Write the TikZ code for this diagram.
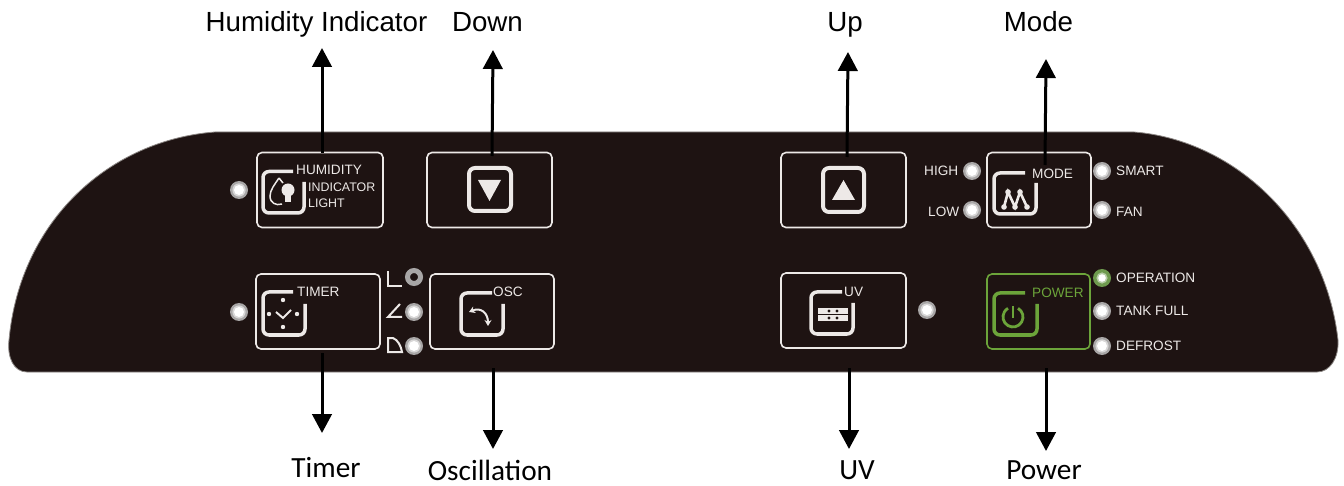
\documentclass[tikz,border=0pt]{standalone}
\usepackage{fontspec}
\setmainfont{Liberation Sans}
\newfontfamily\calibrilike{Carlito}
\usetikzlibrary{arrows.meta}
\definecolor{panelc}{HTML}{1E1312}
\definecolor{edgec}{HTML}{8C8784}
\definecolor{linec}{HTML}{EDE9E7}
\definecolor{greenc}{HTML}{6CA43A}
\definecolor{ledg}{HTML}{A8A6A6}
\definecolor{ledgg}{HTML}{6E9A4E}
\tikzset{
  x=1pt,y=-1pt,
  btn/.style={draw=linec,line width=1.6pt,rounded corners=5pt,inner sep=0pt,minimum width=#1,minimum height=75pt},
  pbtn/.style={btn=#1,draw=greenc},
  icon/.style={draw=linec,line width=3.5pt,rounded corners=6pt},
  gicon/.style={icon,draw=greenc},
  glyph/.style={fill=linec,draw=none},
  led/.style={circle,inner sep=0pt,minimum size=18pt,fill=ledg,
    path picture={\fill[white!55!ledg] (path picture bounding box.center) circle[radius=6.6pt];
                  \fill[white] (path picture bounding box.center) circle[radius=5pt];}},
  gled/.style={circle,inner sep=0pt,minimum size=18pt,fill=ledgg,
    path picture={\fill[white!50!ledgg] (path picture bounding box.center) circle[radius=5.6pt];
                  \fill[white] (path picture bounding box.center) circle[radius=3.8pt];}},
  ringled/.style={circle,inner sep=0pt,minimum size=13pt,draw=ledg,line width=5pt,fill=panelc},
  tag/.style={inner sep=0pt,anchor=west,text=linec,font=\fontsize{13.6}{15}\selectfont},
  gtag/.style={tag,text=greenc},
  lab/.style={inner sep=0pt,anchor=base,text=black,font=\fontsize{27.7}{30}\selectfont},
  blab/.style={inner sep=0pt,anchor=base,text=black,font=\calibrilike\fontsize{29.3}{32}\selectfont},
  arr/.style={draw=black,line width=3pt,-{Triangle[length=19pt,width=19.5pt]}},
  glyphline/.style={draw=linec,line width=2pt},
}
\begin{document}
\begin{tikzpicture}
\useasboundingbox (0,0) rectangle (1344,486);
% panel
\draw[fill=panelc,draw=edgec,line width=0.8pt]
  (215,132) -- (1134,132)
  .. controls (1235,140) and (1325,225) .. (1338,340)
  .. controls (1339,358) and (1330,372) .. (1317,372)
  -- (27,372)
  .. controls (14,372) and (7,358) .. (9,340)
  .. controls (20,220) and (110,140) .. (215,132) -- cycle;
% buttons
\node[btn=126pt] (bhum) at (320,190) {};
\node[btn=125pt] (bdown) at (489.5,190) {};
\node[btn=125pt] (bup) at (843.5,190) {};
\node[btn=104pt] (bmode) at (1039,190) {};
\node[btn=124pt] (btimer) at (318,311.5) {};
\node[btn=124pt] (bosc) at (492,311.5) {};
\node[btn=125pt] (buv) at (843.5,310.5) {};
\node[pbtn=103pt] (bpower) at (1038.5,311.5) {};
% C-shaped icons
\draw[icon] (293,171.5) -- (263,171.5) -- (263,213) -- (304,213) -- (304,182);
\draw[icon] (293,292) -- (263,292) -- (263,335) -- (305,335) -- (305,304);
\draw[icon] (492,293) -- (461,293) -- (461,335) -- (503,335) -- (503,304);
\draw[icon] (1025,173) -- (994,173) -- (994,214) -- (1036,214) -- (1036,183);
\draw[icon] (842,292) -- (811,292) -- (811,334) -- (853,334) -- (853,303);
\draw[gicon] (1025,293) -- (994,293) -- (994,335) -- (1037,335) -- (1037,304);
% down / up icons
\draw[icon,line width=4pt] (469,168) rectangle (511,211);
\fill[glyph] (478,180) -- (501,180) -- (489.5,201) -- cycle;
\draw[icon,line width=4pt] (823,168) rectangle (864,212);
\fill[glyph] (843.5,180) -- (855,200) -- (832,200) -- cycle;
% humidity glyph
\draw[draw=linec,line width=1.5pt] (279,178) .. controls (275,184) and (270,190) .. (270,196)
  .. controls (270,203) and (276,206) .. (282,204);
\draw[draw=linec,line width=1.5pt] (279,178) -- (283,183);
\fill[glyph] (288,190) circle[radius=6.5pt];
\fill[glyph] (285,194) rectangle (291,202);
% timer glyph
\foreach \px/\py in {283/300,269/314,297/314,283/327}
  \fill[glyph] (\px,\py) circle[radius=2.2pt];
\draw[glyphline] (276,312) -- (283,318) -- (291,310);
% osc glyph
\draw[draw=linec,line width=2pt,{Stealth[length=6pt,width=7pt]}-{Stealth[length=6pt,width=7pt]}] (469,312) .. controls (481,307) and (488,313) .. (488,326);
% mode glyph
\draw[draw=linec,line width=2.6pt] (1004,207) -- (1008,192) -- (1015,207) -- (1020,192) -- (1027,207);
\foreach \px/\py in {1004/207,1008/192,1015/207,1020/192,1027/207}
  \fill[glyph] (\px,\py) circle[radius=2.8pt];
% uv glyph
\foreach \py in {311,318}{
  \fill[glyph] (818,\py-2.7) rectangle (848,\py+2.7);
  \fill[panelc] (829,\py) circle[radius=1.7pt];
  \fill[panelc] (837,\py) circle[radius=1.7pt];
}
% power glyph
\draw[draw=greenc,line width=2.8pt] (1018,308.3) arc[start angle=60,end angle=-240,radius=10pt];
\draw[draw=greenc,line width=2.8pt] (1013,306) -- (1013,318);
% angle marks
\draw[glyphline] (388,271) -- (388,286) -- (402,286);
\draw[glyphline] (400,304) -- (388,317) -- (402,317);
\draw[glyphline] (388,352) -- (388,338) -- (393,338) .. controls (398,340) and (401,346) .. (402,352) -- cycle;
% LEDs
\node[led] (l1) at (239,190) {};
\node[led] (l2) at (239,312) {};
\node[ringled] (l3) at (414,277) {};
\node[led] (l4) at (414,312) {};
\node[led] (l5) at (414,346) {};
\node[led] (l6) at (972,171) {};
\node[led] (l7) at (972,210) {};
\node[led] (l8) at (1102,171) {};
\node[led] (l9) at (1102,210) {};
\node[led] (l10) at (927,310) {};
\node[gled] (l11) at (1102,278) {};
\node[led] (l12) at (1102,311) {};
\node[led] (l13) at (1102,346) {};
% panel texts
\node[tag] (t1) at (296,170) {HUMIDITY};
\node[tag,font=\fontsize{12.4}{15}\selectfont] (t2) at (308,187) {INDICATOR};
\node[tag,font=\fontsize{12.4}{15}\selectfont] (t3) at (308,203) {LIGHT};
\node[tag] (t4) at (297,292) {TIMER};
\node[tag] (t5) at (493,292) {OSC};
\node[tag] (t6) at (924,171) {HIGH};
\node[tag] (t7) at (928,212) {LOW};
\node[tag] (t8) at (1032,174) {MODE};
\node[tag] (t9) at (1116,171) {SMART};
\node[tag] (t10) at (1116,212) {FAN};
\node[tag] (t11) at (844,292) {UV};
\node[gtag] (t12) at (1032,293) {POWER};
\node[tag] (t13) at (1116,278) {OPERATION};
\node[tag] (t14) at (1116,311) {TANK FULL};
\node[tag] (t15) at (1116,346) {DEFROST};
% outer labels
\node[lab] (lhum) at (316.5,32) {Humidity Indicator};
\node[lab] (ldown) at (487.5,32) {Down};
\node[lab] (lup) at (845,32) {Up};
\node[lab] (lmode) at (1038.5,32) {Mode};
\node[blab] (ltimer) at (326,477) {Timer};
\node[blab] (losc) at (490,480) {Oscillation};
\node[blab] (luv) at (857,479) {UV};
\node[blab] (lpower) at (1044,479) {Power};
% arrow ends
\coordinate (a1) at (322,153); \coordinate (e1) at (322,48);
\coordinate (a2) at (492,156); \coordinate (e2) at (493,50);
\coordinate (a3) at (847,157); \coordinate (e3) at (848,52);
\coordinate (a4) at (1045,165); \coordinate (e4) at (1046,59);
\coordinate (a5) at (322,353); \coordinate (e5) at (322,433);
\coordinate (a6) at (493,368); \coordinate (e6) at (493,449);
\coordinate (a7) at (849,368); \coordinate (e7) at (849,449);
\coordinate (a8) at (1046,368); \coordinate (e8) at (1046,451);
\foreach \i in {1,...,8} \draw[arr] (a\i) -- (e\i);
\end{tikzpicture}
\end{document}
